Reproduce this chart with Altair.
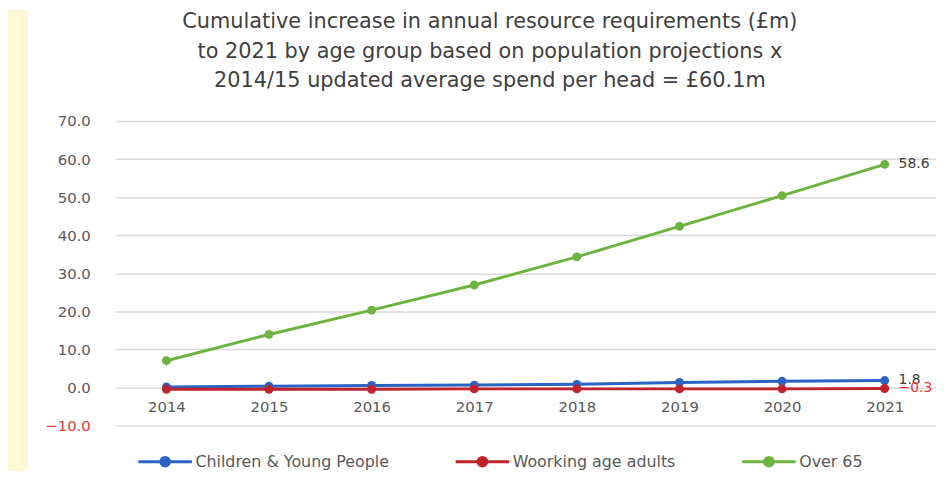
import altair as alt
import pandas as pd

years = ["2014", "2015", "2016", "2017", "2018", "2019", "2020", "2021"]
children = [0.1, 0.3, 0.5, 0.6, 0.8, 1.3, 1.6, 1.8]
working = [-0.5, -0.5, -0.5, -0.4, -0.4, -0.4, -0.4, -0.3]
over65 = [7.0, 13.9, 20.3, 26.9, 34.3, 42.3, 50.4, 58.6]

series_names = ["Children & Young People", "Woorking age adults", "Over 65"]
series_colors = ["#2b63c4", "#c0232c", "#6db33f"]
label_colors = ["#404040", "#e8383d", "#404040"]
label_dy = [-6, 8, 6]

rows = []
for name, vals, lc, dy in zip(series_names, [children, working, over65], label_colors, label_dy):
    for y, v in zip(years, vals):
        rows.append({"year": y, "value": v, "series": name, "lcolor": lc, "ldy": dy})
df = pd.DataFrame(rows)

title_lines = [
    "Cumulative increase in annual resource requirements (£m)",
    "to 2021 by age group based on population projections x",
    "2014/15 updated average spend per head = £60.1m",
]
y_ticks = [-10, 0, 10, 20, 30, 40, 50, 60, 70]

W, H = 828, 307
PAD_L, PAD_T, PAD_B = 108, 112, 46

color_scale = alt.Scale(domain=series_names, range=series_colors)

x_enc = alt.X(
    "year:O",
    sort=years,
    title=None,
    axis=alt.Axis(
        labelAngle=0, domain=False, ticks=False, grid=False, offset=-38,
        labelPadding=12, labelFont="DejaVu Sans", labelFontSize=15,
        labelColor="#595959", zindex=1,
    ),
)
y_enc = alt.Y(
    "value:Q",
    title=None,
    scale=alt.Scale(domain=[-10, 70], nice=False, zero=False),
    axis=alt.Axis(
        values=y_ticks, tickCount=12, format=".1f",
        domain=False, ticks=False, labelPadding=25, labelOverlap=False,
        labelFont="DejaVu Sans", labelFontSize=15,
        labelColor={"expr": "datum.value < 0 ? '#e8383d' : '#595959'"},
        gridColor="#dadada", gridWidth=1.5, zindex=0,
    ),
)

strip = alt.Chart(pd.DataFrame({"a": [0]})).mark_rect(color="#fff8d5").encode(
    x=alt.value(-PAD_L), x2=alt.value(-PAD_L + 20),
    y=alt.value(-PAD_T), y2=alt.value(H + PAD_B),
)

legend_path = "M-1,0L1,0M-0.16,0A0.16,0.16,0,1,1,0.16,0A0.16,0.16,0,1,1,-0.16,0Z"

lines = alt.Chart(df).mark_line(strokeWidth=3).encode(
    x=x_enc, y=y_enc,
    color=alt.Color(
        "series:N", scale=color_scale, sort=series_names, title=None,
        legend=alt.Legend(
            orient="none", legendX=22, legendY=315, direction="horizontal",
            symbolType=legend_path, symbolSize=2916, symbolStrokeWidth=3,
            labelFont="DejaVu Sans", labelFontSize=16, labelColor="#595959",
            labelOffset=2, columnPadding=60, labelLimit=400,
        ),
    ),
)

points = alt.Chart(df).mark_circle(size=80, opacity=1).encode(
    x=alt.X("year:O", sort=years), y="value:Q",
    color=alt.Color("series:N", scale=color_scale, sort=series_names, legend=None),
)

last = df[df["year"] == "2021"]
labels = alt.Chart(last).mark_text(
    align="left", baseline="middle", dx=14, font="DejaVu Sans", fontSize=14
).encode(
    x=alt.X("year:O", sort=years), y="value:Q",
    text=alt.Text("value:Q", format=".1f"),
    color=alt.Color("lcolor:N", scale=None),
    yOffset=alt.YOffset("ldy:Q", scale=None),
)

chart = alt.layer(strip, lines, points, labels).properties(
    width=W, height=H,
    background="white",
    padding={"left": PAD_L, "top": PAD_T, "right": 0, "bottom": PAD_B},
    autosize=alt.AutoSizeParams(type="none"),
    title=alt.TitleParams(
        text=title_lines, anchor="middle", frame="group", dx=-36, dy=104,
        offset=22, font="DejaVu Sans", fontSize=21, fontWeight="normal",
        color="#404040", lineHeight=30,
    ),
).configure_view(stroke=None)

chart.save("out.html", embed_options={"renderer": "svg", "actions": False})
